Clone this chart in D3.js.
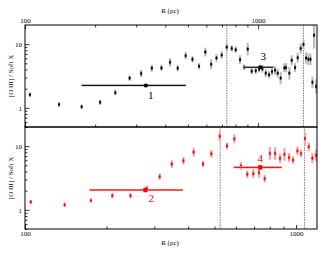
<!DOCTYPE html>
<html>
<head>
<meta charset="utf-8">
<script src="https://cdnjs.cloudflare.com/ajax/libs/d3/7.8.5/d3.min.js"></script>
<style>
  body { margin: 0; background: #fff; }
  svg { display: block; font-family: "Liberation Serif", "DejaVu Serif", serif; }
</style>
</head>
<body>
<div id="chart"></div>
<script>
// top panel: R (pc), ratio, error (dex)
var topR = [105, 140, 175, 210, 244, 281, 315, 350, 385, 419, 452, 489, 523, 558, 594, 629, 663, 698,
  734, 771, 802, 837, 903, 871, 939, 977, 1010, 1044, 1079, 1115, 1148, 1183, 1214, 1250, 1297, 1318,
  1362, 1394, 1441, 1479, 1524, 1566, 1607, 1644, 1678, 1711, 1739, 1774];
var topV = [1.61, 1.13, 1.04, 1.22, 1.73, 2.93, 3.46, 4.19, 4.24, 5.19, 4.19, 6.59, 5.78, 4.50, 7.51, 4.83, 6.06, 6.75,
  8.98, 8.57, 8.17, 5.71, 8.36, 4.34, 3.76, 3.83, 4.04, 4.10, 3.50, 3.30, 3.71, 3.89, 3.50, 2.93, 4.24, 4.28,
  3.50, 5.57, 4.28, 6.13, 8.57, 9.90, 6.06, 5.78, 5.78, 2.51, 13.8, 2.17];
var topErr = [0.03, 0.03, 0.03, 0.036, 0.04, 0.04, 0.057, 0.057, 0.05, 0.067, 0.05, 0.06, 0.05, 0.05, 0.07, 0.08, 0.06, 0.06,
  0.07, 0.05, 0.05, 0.07, 0.10, 0.04, 0.05, 0.05, 0.05, 0.06, 0.06, 0.06, 0.06, 0.07, 0.07, 0.10, 0.07, 0.07,
  0.10, 0.08, 0.07, 0.08, 0.08, 0.08, 0.09, 0.09, 0.09, 0.09, 0.21, 0.11];

// bottom panel
var botR = [105, 140, 175, 210, 245, 281, 314, 348, 384, 419, 454, 487, 523, 556, 592, 626, 661, 696,
  730, 766, 801, 837, 873, 906, 943, 975, 1012, 1043, 1079, 1114, 1149, 1185];
var botV = [1.33, 1.20, 1.40, 1.67, 1.67, 2.15, 3.32, 5.23, 5.90, 8.06, 5.23, 7.59, 14.3, 10.1, 13.0, 4.87, 3.61, 3.70,
  3.83, 3.09, 7.68, 7.68, 6.42, 7.41, 6.65, 6.04, 8.45, 7.68, 13.2, 9.77, 6.49, 7.15];
var botErr = [0.03, 0.03, 0.03, 0.036, 0.036, 0.04, 0.05, 0.06, 0.06, 0.07, 0.05, 0.06, 0.08, 0.05, 0.07, 0.06, 0.06, 0.07,
  0.08, 0.06, 0.10, 0.10, 0.07, 0.10, 0.07, 0.06, 0.07, 0.06, 0.10, 0.07, 0.08, 0.09];

// integrated regions: label, R, value, R range
var topRegions = [
  { id: "1", r: 330, v: 2.25, lo: 175, hi: 490 },
  { id: "3", r: 1023, v: 4.34, lo: 865, hi: 1164 }
];
var botRegions = [
  { id: "2", r: 278, v: 2.05, lo: 173, hi: 382 },
  { id: "4", r: 738, v: 4.64, lo: 589, hi: 885 }
];
var topLines = [734, 1566];
var botLines = [525, 1074];

var width = 330, height = 255;
var left = 25, right = 317;

var svg = d3.select("#chart").append("svg")
  .attr("width", width)
  .attr("height", height);

function panel(opt) {
  var x = d3.scaleLog().domain(opt.xDomain).range([left, right]);
  var y = d3.scaleLog().domain([0.5, 20]).range([opt.bottom, opt.top]);
  var g = svg.append("g");

  var clipId = "clip" + opt.top;
  svg.append("clipPath").attr("id", clipId)
    .append("rect").attr("x", left).attr("y", opt.top)
    .attr("width", right - left).attr("height", opt.bottom - opt.top);

  var plot = g.append("g").attr("clip-path", "url(#" + clipId + ")");

  // dotted lines
  plot.selectAll(".vl").data(opt.lines).enter().append("line")
    .attr("x1", d => x(d)).attr("x2", d => x(d))
    .attr("y1", opt.top).attr("y2", opt.bottom)
    .attr("stroke", "#808080").attr("stroke-width", 1)
    .attr("stroke-dasharray", "1.5,1");

  var pts = opt.r.map((r, i) => ({ r: r, v: opt.v[i], e: opt.err[i] }));

  // error bands
  plot.selectAll(".band").data(pts).enter().append("rect")
    .attr("x", d => x(d.r) - 1.1)
    .attr("width", 2.2)
    .attr("y", d => y(d.v * Math.pow(10, d.e)))
    .attr("height", d => y(d.v / Math.pow(10, d.e)) - y(d.v * Math.pow(10, d.e)))
    .attr("fill", opt.band);

  plot.selectAll(".vbar").data(pts).enter().append("line")
    .attr("x1", d => x(d.r)).attr("x2", d => x(d.r))
    .attr("y1", d => y(d.v) - 2).attr("y2", d => y(d.v) + 2)
    .attr("stroke", opt.color).attr("stroke-width", 0.8);

  plot.selectAll(".dot").data(pts).enter().append("rect")
    .attr("x", d => x(d.r) - 1).attr("y", d => y(d.v) - 1)
    .attr("width", 2).attr("height", 2)
    .attr("fill", opt.color);

  // regions
  opt.regions.forEach(function(d) {
    plot.append("line")
      .attr("x1", x(d.lo)).attr("x2", x(d.hi))
      .attr("y1", y(d.v)).attr("y2", y(d.v))
      .attr("stroke", opt.band).attr("stroke-width", 2.2);
    plot.append("line")
      .attr("x1", x(d.lo)).attr("x2", x(d.hi))
      .attr("y1", y(d.v)).attr("y2", y(d.v))
      .attr("stroke", opt.color).attr("stroke-width", 1);
    if (opt.round) {
      plot.append("ellipse").attr("cx", x(d.r)).attr("cy", y(d.v))
        .attr("rx", 2.3).attr("ry", 2).attr("fill", opt.color);
    } else {
      plot.append("rect").attr("x", x(d.r) - 2).attr("y", y(d.v) - 2.3)
        .attr("width", 4).attr("height", 4.6).attr("fill", opt.color);
    }
    g.append("text")
      .attr("x", x(d.r) + opt.lab[d.id][0])
      .attr("y", y(d.v) + opt.lab[d.id][1])
      .attr("text-anchor", "middle")
      .attr("dominant-baseline", "central")
      .attr("font-size", 11)
      .attr("fill", opt.color)
      .text(d.id);
  });

  // frame
  g.append("rect").attr("x", left).attr("y", opt.top)
    .attr("width", right - left).attr("height", opt.bottom - opt.top)
    .attr("fill", "none").attr("stroke", "#000").attr("stroke-width", 1);

  // x ticks
  var xt = x.ticks().filter(d => d >= opt.xDomain[0] && d <= opt.xDomain[1]);
  var isMajor = d => Math.abs(Math.log10(d) - Math.round(Math.log10(d))) < 1e-6;
  opt.xAxes.forEach(function(a) {
    var ax = (a.pos === "top" ? d3.axisTop(x) : d3.axisBottom(x))
      .tickValues(xt)
      .tickSize(-4)
      .tickPadding(2.5)
      .tickFormat(d => (a.labels && isMajor(d)) ? d3.format("d")(d) : "");
    var ag = g.append("g")
      .attr("transform", "translate(0," + a.y + ")")
      .call(ax);
    ag.select(".domain").remove();
    ag.selectAll(".tick line")
      .attr("y2", d => (a.pos === "top" ? 1 : -1) * (isMajor(d) ? 4 : 2.5))
      .attr("stroke-width", 0.8);
    ag.selectAll("text").attr("font-size", 7).attr("font-family", "Liberation Serif");
  });

  // y ticks
  var yt = [0.5, 0.6, 0.7, 0.8, 0.9, 1, 2, 3, 4, 5, 6, 7, 8, 9, 10];
  var yAx = d3.axisLeft(y).tickValues(yt).tickSize(-4).tickPadding(3)
    .tickFormat(d => isMajor(d) ? d3.format("d")(d) : "");
  var yg = g.append("g").attr("transform", "translate(" + left + ",0)").call(yAx);
  yg.select(".domain").remove();
  yg.selectAll(".tick line")
    .attr("x2", d => isMajor(d) ? 4.5 : 2.5)
    .attr("stroke-width", 0.8);
  yg.selectAll("text").attr("font-size", 7).attr("font-family", "Liberation Serif");

  g.append("text")
    .attr("transform", "translate(11," + ((opt.top + opt.bottom) / 2) + ") rotate(-90)")
    .attr("text-anchor", "middle")
    .attr("dominant-baseline", "central")
    .attr("font-size", 7)
    .text("[O III] / Soft X");
}

panel({
  top: 25, bottom: 127, xDomain: [100, 1790],
  r: topR, v: topV, err: topErr, regions: topRegions, lines: topLines,
  color: "#000", band: "#bdbdbd", round: true,
  lab: { "1": [5, 10], "3": [3, -11] },
  xAxes: [{ pos: "top", y: 25, labels: true }, { pos: "bottom", y: 127, labels: false }]
});

panel({
  top: 127, bottom: 229, xDomain: [100, 1195],
  r: botR, v: botV, err: botErr, regions: botRegions, lines: botLines,
  color: "#ff0000", band: "#f6a5a5", round: false,
  lab: { "2": [6, 8], "4": [0, -9] },
  xAxes: [{ pos: "bottom", y: 229, labels: true }]
});

svg.append("text").attr("x", 170).attr("y", 13)
  .attr("text-anchor", "middle").attr("font-size", 7).text("R (pc)");
svg.append("text").attr("x", 170).attr("y", 245)
  .attr("text-anchor", "middle").attr("font-size", 7).text("R (pc)");
</script>
</body>
</html>
